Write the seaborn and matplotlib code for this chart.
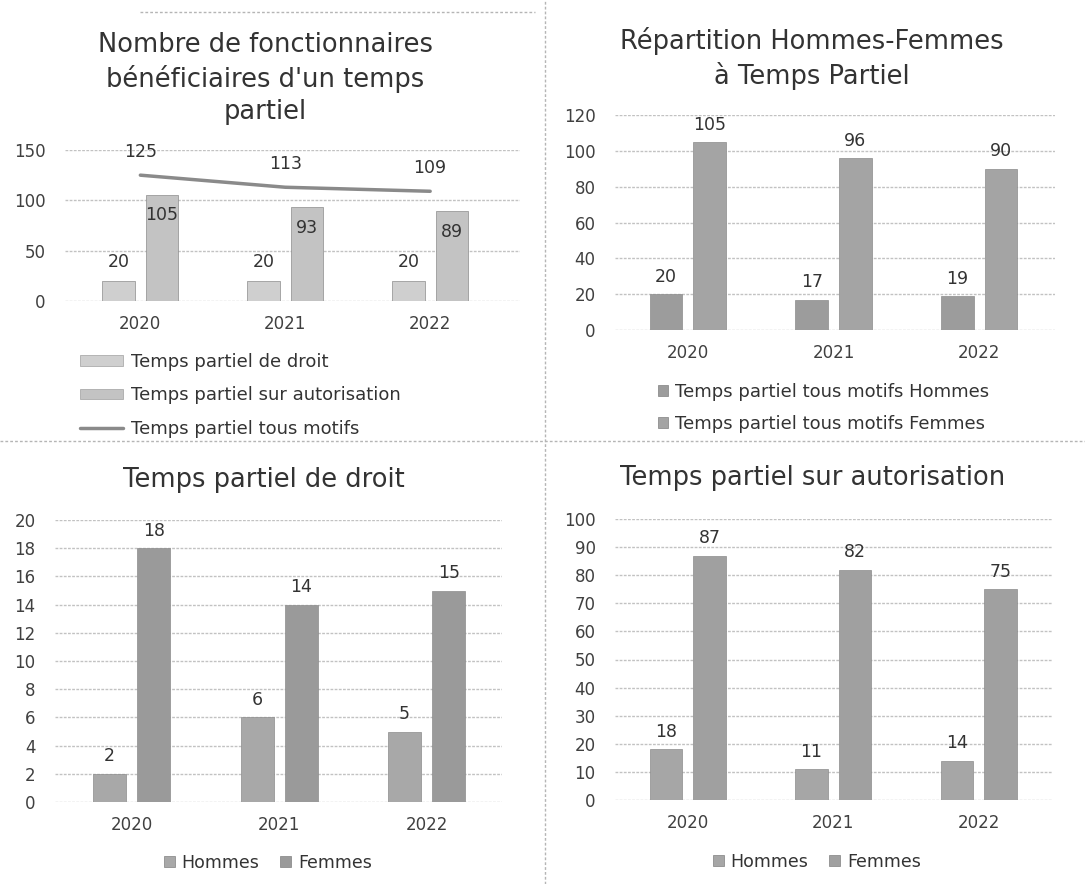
import numpy as np
import pandas as pd
import matplotlib
matplotlib.use('Agg')
import matplotlib.pyplot as plt
from matplotlib.patches import Patch
from matplotlib.lines import Line2D
import seaborn as sns

# --- Données ---
annees = ['2020', '2021', '2022']

tp_droit = [20, 20, 20]
tp_autorisation = [105, 93, 89]
tp_tous_motifs = [125, 113, 109]

tous_motifs_hommes = [20, 17, 19]
tous_motifs_femmes = [105, 96, 90]

droit_hommes = [2, 6, 5]
droit_femmes = [18, 14, 15]

autorisation_hommes = [18, 11, 14]
autorisation_femmes = [87, 82, 75]

sns.set_theme(style='white')
plt.rcParams['font.family'] = ['DejaVu Sans']

W, H = 1085, 884
TXT = '#333333'
GRID = '#c2c2c2'

fig = plt.figure(figsize=(W / 100, H / 100), dpi=100)
fig.patch.set_facecolor('white')


def px_axes(left, right, top, bottom):
    return fig.add_axes([left / W, 1 - bottom / H, (right - left) / W, (bottom - top) / H])


def long_df(serie_a, serie_b, nom_a, nom_b):
    return pd.DataFrame({
        'annee': annees * 2,
        'valeur': list(serie_a) + list(serie_b),
        'serie': [nom_a] * len(annees) + [nom_b] * len(annees),
    })


def style_axes(ax, ymax, step, xlim):
    ax.set_ylim(0, ymax)
    ax.set_yticks(np.arange(0, ymax + 1, step))
    ax.set_xlim(*xlim)
    ax.set_xlabel('')
    ax.set_ylabel('')
    for s in ax.spines.values():
        s.set_visible(False)
    ax.grid(axis='y', color=GRID, linestyle=(0, (2, 1)), linewidth=1.0)
    ax.set_axisbelow(True)
    ax.tick_params(axis='both', length=0, labelsize=12, colors='#404040')
    ax.tick_params(axis='y', pad=14)
    ax.tick_params(axis='x', pad=10)


def draw_bars(ax, df, couleurs):
    sns.barplot(data=df, x='annee', y='valeur', hue='serie', palette=couleurs,
                width=0.6, gap=0.25, saturation=1, legend=False, ax=ax,
                edgecolor='#8c8c8c', linewidth=0.5)


# --- Graphique 1 : Nombre de fonctionnaires ---
ax1 = px_axes(65, 520, 150, 301)
df1 = long_df(tp_droit, tp_autorisation, 'Temps partiel de droit', 'Temps partiel sur autorisation')
col1 = ['#cfcfcf', '#c3c3c3']
draw_bars(ax1, df1, col1)
ax1.bar_label(ax1.containers[0], fmt='%d', padding=7, fontsize=12.5, color=TXT)
ax1.bar_label(ax1.containers[1], fmt='%d', padding=-21, fontsize=12.5, color=TXT)
sns.lineplot(x=np.arange(len(annees)), y=tp_tous_motifs, ax=ax1, color='#8a8a8a', linewidth=2.5)
for i, v in enumerate(tp_tous_motifs):
    ax1.annotate(str(v), (i, v), xytext=(0, 17), textcoords='offset points',
                 ha='center', va='center', fontsize=12.5, color=TXT)
style_axes(ax1, 150, 50, (-0.52, 2.62))
ax1.set_xticks(range(len(annees)))
ax1.set_xticklabels(annees)

fig.text(265 / W, 1 - 78.5 / H, "Nombre de fonctionnaires\nbénéficiaires d'un temps\npartiel",
         ha='center', va='center', fontsize=18.5, color=TXT, linespacing=1.3)
h1 = [Patch(facecolor=col1[0], edgecolor='#a0a0a0', linewidth=0.5),
      Patch(facecolor=col1[1], edgecolor='#a0a0a0', linewidth=0.5),
      Line2D([0], [0], color='#8a8a8a', linewidth=2.5)]
fig.legend(h1, ['Temps partiel de droit', 'Temps partiel sur autorisation', 'Temps partiel tous motifs'],
           loc='upper left', bbox_to_anchor=(80 / W, 1 - 353 / H), frameon=False,
           fontsize=13, handlelength=2.4, handleheight=0.55, handletextpad=0.4,
           labelspacing=0.85, borderpad=0, borderaxespad=0, labelcolor=TXT)

# --- Graphique 2 : Répartition Hommes-Femmes ---
ax2 = px_axes(615, 1055, 115, 330)
df2 = long_df(tous_motifs_hommes, tous_motifs_femmes,
              'Temps partiel tous motifs Hommes', 'Temps partiel tous motifs Femmes')
col2 = ['#9c9c9c', '#a4a4a4']
draw_bars(ax2, df2, col2)
for c in ax2.containers:
    ax2.bar_label(c, fmt='%d', padding=6, fontsize=12.5, color=TXT)
style_axes(ax2, 120, 20, (-0.5, 2.52))
fig.text(812 / W, 1 - 58.5 / H, 'Répartition Hommes-Femmes\nà Temps Partiel',
         ha='center', va='center', fontsize=18.5, color=TXT, linespacing=1.3)
h2 = [Patch(facecolor=c, edgecolor='#808080', linewidth=0.5) for c in col2]
fig.legend(h2, ['Temps partiel tous motifs Hommes', 'Temps partiel tous motifs Femmes'],
           loc='upper left', bbox_to_anchor=(658 / W, 1 - 383 / H), frameon=False,
           fontsize=13, handlelength=0.55, handleheight=0.55, handletextpad=0.4,
           labelspacing=0.75, borderpad=0, borderaxespad=0, labelcolor=TXT)

# --- Graphique 3 : Temps partiel de droit ---
ax3 = px_axes(55, 502, 520, 802)
df3 = long_df(droit_hommes, droit_femmes, 'Hommes', 'Femmes')
col3 = ['#a8a8a8', '#9a9a9a']
draw_bars(ax3, df3, col3)
for c in ax3.containers:
    ax3.bar_label(c, fmt='%d', padding=6, fontsize=12.5, color=TXT)
style_axes(ax3, 20, 2, (-0.52, 2.51))
fig.text(264 / W, 1 - 480 / H, 'Temps partiel de droit',
         ha='center', va='center', fontsize=18.5, color=TXT)
h3 = [Patch(facecolor=c, edgecolor='#808080', linewidth=0.5) for c in col3]
fig.legend(h3, ['Hommes', 'Femmes'], loc='center', bbox_to_anchor=(268 / W, 1 - 863 / H),
           ncol=2, frameon=False, fontsize=12.5, handlelength=0.6, handleheight=0.6,
           handletextpad=0.4, columnspacing=1.2, borderpad=0, borderaxespad=0, labelcolor=TXT)

# --- Graphique 4 : Temps partiel sur autorisation ---
ax4 = px_axes(615, 1053, 519, 800)
df4 = long_df(autorisation_hommes, autorisation_femmes, 'Hommes', 'Femmes')
col4 = ['#a6a6a6', '#a0a0a0']
draw_bars(ax4, df4, col4)
for c in ax4.containers:
    ax4.bar_label(c, fmt='%d', padding=6, fontsize=12.5, color=TXT)
style_axes(ax4, 100, 10, (-0.5, 2.51))
fig.text(813 / W, 1 - 478 / H, 'Temps partiel sur autorisation',
         ha='center', va='center', fontsize=18.5, color=TXT)
h4 = [Patch(facecolor=c, edgecolor='#808080', linewidth=0.5) for c in col4]
fig.legend(h4, ['Hommes', 'Femmes'], loc='center', bbox_to_anchor=(817 / W, 1 - 862 / H),
           ncol=2, frameon=False, fontsize=12.5, handlelength=0.6, handleheight=0.6,
           handletextpad=0.4, columnspacing=1.2, borderpad=0, borderaxespad=0, labelcolor=TXT)

# --- Séparateurs entre les graphiques ---
sep = dict(color='#b5b5b5', linewidth=1, linestyle=(0, (2, 1.5)))
fig.add_artist(Line2D([545 / W, 545 / W], [0, 1], **sep))
fig.add_artist(Line2D([0, 1], [1 - 441 / H, 1 - 441 / H], **sep))
fig.add_artist(Line2D([140 / W, 535 / W], [1 - 12 / H, 1 - 12 / H], **sep))

fig.savefig('out.png', dpi=100, facecolor='white')
